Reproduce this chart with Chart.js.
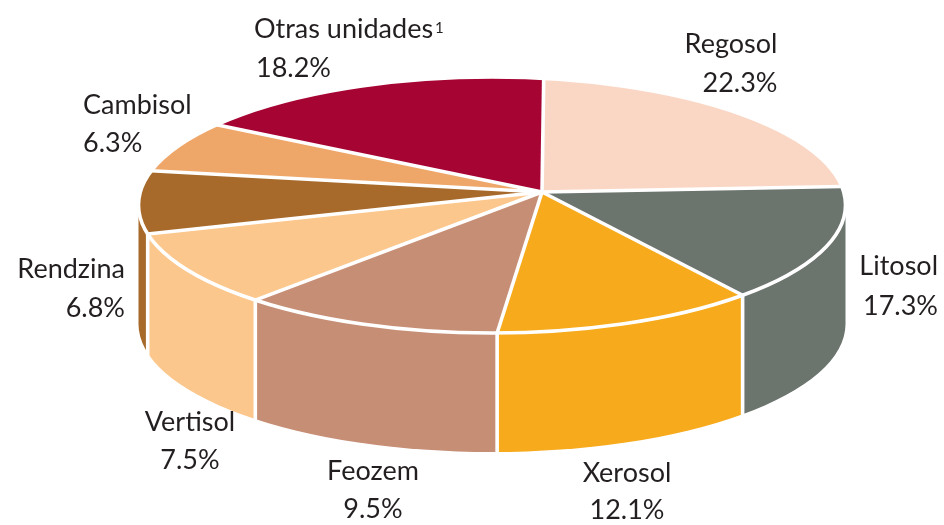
<!DOCTYPE html>
<html>
<head>
<meta charset="utf-8">
<style>html,body{margin:0;padding:0;background:#fff}#w{position:relative;width:944px;height:525px}</style>
<script src="https://cdn.jsdelivr.net/npm/chart.js@4"></script>
</head>
<body>
<div id="w"><canvas id="c" width="944" height="525"></canvas></div>
<script>
const categories = ["Regosol","Litosol","Xerosol","Feozem","Vertisol","Rendzina","Cambisol","Otras unidades"];
const shares = [22.3,17.3,12.1,9.5,7.5,6.8,6.3,18.2];
const sliceColors = ["#FAD7C5","#6C746E","#F6AA1C","#C78E76","#FBC78C","#A86A2A","#EEA669","#A60534"];
const shareLabels = ["22.3%","17.3%","12.1%","9.5%","7.5%","6.8%","6.3%","18.2%"];
const footnoteMark = "1";

// Layout of the labels: [x, baseline, align] for name line and value line.
const nameSpots = [[731,53,"center"],[938,275,"right"],[627,482,"center"],[373,480,"center"],[190,431,"center"],[125,278,"right"],[83,114,"left"],[254,38,"left"]];
const valueSpots = [[740,92,"center"],[938,315,"right"],[627,519,"center"],[373,518,"center"],[190,469,"center"],[125,317,"right"],[83,152,"left"],[256,77,"left"]];
const footnoteSpot = [435,33];

// Projection of the flat pie to the tilted disc.
const pivot = {x:542, y:192};
const rim = {x:492, y:205, rx:353.5, ry:128};
const depth = 119;
const proj = {a:2.79, b:-0.015, c:0.12, d:1};

function rimPoint(alpha){
  // alpha is the library's arc angle; b shears the flat pie's y axis into x.
  const dx = proj.a*Math.cos(alpha)+proj.b*Math.sin(alpha), dy = proj.c*Math.cos(alpha)+proj.d*Math.sin(alpha);
  const ox = pivot.x-rim.x, oy = pivot.y-rim.y;
  const A = dx*dx/(rim.rx*rim.rx)+dy*dy/(rim.ry*rim.ry);
  const B = 2*(ox*dx/(rim.rx*rim.rx)+oy*dy/(rim.ry*rim.ry));
  const C = ox*ox/(rim.rx*rim.rx)+oy*oy/(rim.ry*rim.ry)-1;
  const t = (-B+Math.sqrt(B*B-4*A*C))/(2*A);
  return {x:pivot.x+t*dx, y:pivot.y+t*dy};
}

function ellipsePath(ctx){
  ctx.beginPath();
  ctx.ellipse(rim.x, rim.y, rim.rx, rim.ry, 0, 0, Math.PI*2);
}
function wallPath(ctx){
  ctx.beginPath();
  ctx.moveTo(rim.x-rim.rx, rim.y);
  ctx.lineTo(rim.x-rim.rx, rim.y+depth);
  ctx.ellipse(rim.x, rim.y+depth, rim.rx, rim.ry, 0, Math.PI, 0, true);
  ctx.lineTo(rim.x+rim.rx, rim.y);
  ctx.closePath();
}

const disc3d = {
  id:"disc3d",
  beforeDatasetsDraw(chart){
    const ctx = chart.ctx, arcs = chart.getDatasetMeta(0).data;
    // side wall: each slice's colour below the part of its rim that faces the viewer
    ctx.save();
    wallPath(ctx); ctx.clip();
    arcs.forEach(a=>{
      const s = rimPoint(a.startAngle), e = rimPoint(a.endAngle);
      const sFront = s.y>rim.y, eFront = e.y>rim.y;
      if(!sFront && !eFront) return;
      const hi = sFront ? s.x : rim.x+rim.rx+1;
      const lo = eFront ? e.x : rim.x-rim.rx-1;
      ctx.fillStyle = a.options.backgroundColor;
      ctx.fillRect(lo, rim.y-10, hi-lo, depth+rim.ry+20);
    });
    ctx.restore();
    // top face
    ctx.save();
    ellipsePath(ctx); ctx.clip();
    ctx.transform(proj.a, proj.c, proj.b, proj.d,
      pivot.x-proj.a*arcs[0].x-proj.b*arcs[0].y,
      pivot.y-proj.c*arcs[0].x-proj.d*arcs[0].y);
    arcs.forEach(a=>a.draw(ctx));
    ctx.restore();
    // white separators
    ctx.save();
    ctx.strokeStyle="#fff"; ctx.lineWidth=3.6; ctx.lineCap="butt";
    ellipsePath(ctx); ctx.stroke();
    arcs.forEach(a=>{
      const p = rimPoint(a.endAngle);
      ctx.beginPath(); ctx.moveTo(pivot.x,pivot.y); ctx.lineTo(p.x,p.y); ctx.stroke();
      if(p.y>rim.y){
        ctx.beginPath(); ctx.moveTo(p.x,p.y); ctx.lineTo(p.x,p.y+depth+6); ctx.stroke();
      }
    });
    ctx.restore();
    return false;
  },
  afterDraw(chart){
    const ctx = chart.ctx;
    ctx.save();
    ctx.fillStyle="#231F20";
    ctx.font='27px Lato';
    ctx.textBaseline="alphabetic";
    categories.forEach((name,i)=>{
      ctx.textAlign=nameSpots[i][2];
      ctx.fillText(name,nameSpots[i][0],nameSpots[i][1]);
      ctx.textAlign=valueSpots[i][2];
      ctx.fillText(shareLabels[i],valueSpots[i][0],valueSpots[i][1]);
    });
    ctx.font='15px Lato';
    ctx.textAlign="left";
    ctx.fillText(footnoteMark,footnoteSpot[0],footnoteSpot[1]);
    ctx.restore();
  }
};

new Chart(document.getElementById("c"),{
  type:"pie",
  data:{labels:categories,datasets:[{data:shares,backgroundColor:sliceColors,borderWidth:0,radius:200}]},
  options:{
    responsive:false,animation:false,
    events:[],
    plugins:{legend:{display:false},tooltip:{enabled:false},title:{display:false}},
    layout:{padding:0}
  },
  plugins:[disc3d]
});
</script>
</body>
</html>
